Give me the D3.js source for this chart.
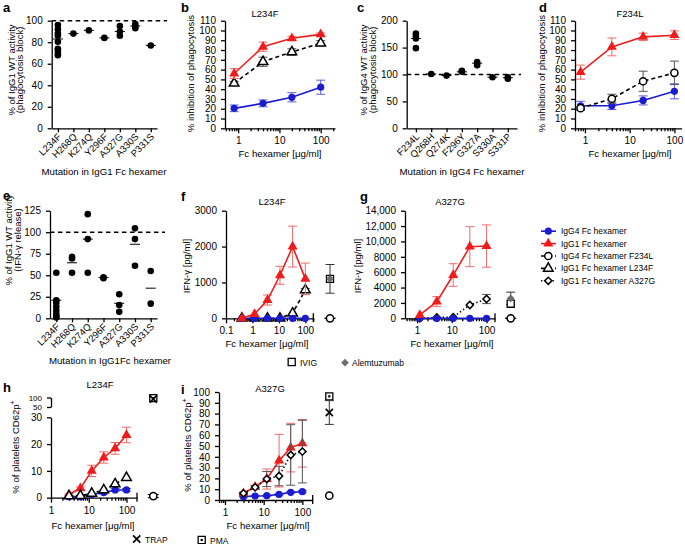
<!DOCTYPE html>
<html>
<head>
<meta charset="utf-8">
<script src="https://cdn.jsdelivr.net/npm/d3@7"></script>
<style>
  body { margin: 0; background: #fff; }
  svg { font-family: "Liberation Sans", Arial, Helvetica, sans-serif; }
  .axis path, .axis line { stroke: #000; stroke-width: 1.3; }
  .axis text { font-size: 10px; fill: #000; font-family: "Liberation Sans", Arial, sans-serif; }
</style>
</head>
<body>
<script>
// ---------------- data ----------------
const mutIgG1 = ["L234F", "H268Q", "K274Q", "Y296F", "A327G", "A330S", "P331S"];
const mutIgG4 = ["F234L", "Q268H", "Q274K", "F296Y", "G327A", "S330A", "S331P"];

// a: % of IgG1 WT activity (phagocytosis block)
const aPoints = [[96, 92, 88, 86, 80.5, 74, 73, 70, 68], [88], [91], [84], [95, 90, 86], [97, 94.5, 93], [77]];
const aMeans = [83, 88, 91, 84, 90, 95, 77];

// c: % of IgG4 WT activity (phagocytosis block)
const cPoints = [[176, 172, 167, 149], [101], [98], [107, 105], [123, 117], [95], [95, 92]];
const cMeans = [167, 101, 98, 105, 121, 95, 94];

// e: % of IgG1 WT activity (IFN-g release)
const ePoints = [[53, 21, 18, 13.5, 9, 5, 2.5, 1], [71.5, 69.5, 53], [121, 92, 53], [47.5, 46.5],
                 [28, 15.5, 7.5], [104.5, 92, 61], [55, 17]];
const eMeans = [21, 64.5, 92, 47.5, 17.5, 86, 35];

// b: L234F, % inhibition of phagocytosis
const concB = [0.8, 4, 20, 100];
const bIgG4 = [20.4, 25.5, 31.7, 42], bIgG4Err = [3.4, 3.5, 4.7, 7.2];
const bIgG1 = [56, 83.4, 92, 96], bIgG1Err = [5, 4.7, 2, 1.5];
const bL234F = [46, 68, 78, 87], bL234FErr = [2, 4.7, 3.3, 2.6];

// d: F234L, % inhibition of phagocytosis
const concD = [0.8, 4, 20, 100];
const dIgG4 = [23, 23, 28.5, 37.8], dIgG4Err = [4.6, 3.8, 4.6, 7.7];
const dIgG1 = [57.4, 83.2, 93.5, 95.2], dIgG1Err = [7.2, 9.1, 3.8, 4.4];
const dF234L = [20.6, 30.2, 48.1, 56.7], dF234LErr = [1.5, 4.6, 10.3, 12];

// f: L234F, IFN-g [pg/ml]
const concF = [0.4, 1.2, 3.7, 11, 33, 100];
const fIgG4 = [0, 0, 0, 0, 0, 0];
const fIgG1 = [0, 120, 510, 1200, 2000, 1100], fIgG1Err = [0, 0, 140, 250, 570, 440];
const fL234F = [0, 0, 0, 0, 140, 790], fL234FErr = [0, 0, 0, 0, 0, 40];
const fIVIG = 1100, fIVIGErr = 400, fAlem = 1100, fMedium = 0;

// g: A327G, IFN-g [pg/ml]
const concG = [1.2, 3.7, 11, 33, 100];
const gIgG4 = [0, 0, 0, 0, 0];
const gIgG1 = [430, 2170, 5630, 9320, 9400], gIgG1Err = [0, 650, 1470, 2600, 2750];
const gA327G = [0, 100, 150, 1730, 2510], gA327GErr = [0, 0, 0, 0, 600];
const gIVIG = 1900, gAlem = 2600, gAlemErr = 800, gMedium = 0;

// h: L234F, % of platelets CD62p+
const concH = [3, 6, 12, 25, 50, 100];
const hIgG4 = [0.4, 0.4, 1.2, 1.9, 2.9, 2.9], hIgG4Err = [0.3, 0.3, 0.4, 0.5, 0.5, 0.5];
const hIgG1 = [1.2, 3.5, 10, 15, 18.4, 23.4], hIgG1Err = [0.3, 0.5, 2.1, 2.1, 2.2, 2.9];
const hL234F = [0.6, 0.75, 1.6, 2.9, 5.1, 7.5];
const hTRAP = 92, hPMA = 97, hMedium = 0.6, hMediumErr = 0.6;

// i: A327G, % of platelets CD62p+
const concI = [3, 6, 12, 25, 50, 100];
const iIgG4 = [3.1, 3.7, 4, 5.2, 7.1, 7.7], iIgG4Err = [0.5, 0.5, 0.5, 0.7, 0.8, 1];
const iIgG1 = [6.2, 12.3, 19.4, 36.4, 48.5, 52.5], iIgG1Err = [1, 1.5, 9.3, 24.4, 22.5, 22];
const iA327G = [6.2, 11.7, 19.4, 22.2, 41.7, 44.8], iA327GErr = [1, 1.5, 7, 9, 28, 29];
const iTRAP = 81, iTRAPErr = 11, iPMA = 96, iMedium = 4;

const legendLabels = ["IgG4 Fc hexamer", "IgG1 Fc hexamer", "IgG4 Fc hexamer F234L",
                      "IgG1 Fc hexamer L234F", "IgG1 Fc hexamer A327G"];

// ---------------- helpers ----------------
const BLUE = "#1c1ccf", RED = "#f01c1c", GREY = "#6e6e6e";
const DASH = "4,3", DOT = "1.4,2.4";

const svg = d3.select("body").append("svg").attr("width", 685).attr("height", 544);

function text(t, x, y, size, anchor, rot) {
  const el = svg.append("text").attr("font-size", size || 10).attr("text-anchor", anchor || "middle").text(t);
  if (rot) el.attr("transform", `translate(${x},${y}) rotate(${rot})`);
  else el.attr("x", x).attr("y", y);
  return el;
}
function letter(t, x, y) { text(t, x, y, 13, "start").attr("font-weight", "bold"); }

function yAxis(scale, x, ticks, fmt, fontSize) {
  const g = svg.append("g").attr("class", "axis").attr("transform", `translate(${x},0)`)
    .call(d3.axisLeft(scale).tickValues(ticks).tickSize(4).tickSizeOuter(0).tickPadding(5)
      .tickFormat(fmt || (d => d)));
  if (fontSize) g.selectAll("text").style("font-size", fontSize + "px");
}

function logAxis(scale, y, majors, endTick) {
  const [d0, d1] = scale.domain();
  const minors = [];
  for (let e = Math.floor(Math.log10(d0)); e <= Math.ceil(Math.log10(d1)); e++)
    for (let k = 2; k < 10; k++) {
      const v = k * Math.pow(10, e);
      if (v >= d0 && v <= d1) minors.push(v);
    }
  const g = svg.append("g").attr("class", "axis").attr("transform", `translate(0,${y})`);
  g.append("g").call(d3.axisBottom(scale).tickValues(minors).tickSize(3).tickSizeOuter(0).tickFormat(""));
  g.append("g").call(d3.axisBottom(scale).tickValues(majors).tickSize(5).tickSizeOuter(0).tickPadding(4)
      .tickFormat(d => d))
    .select(".domain").remove();
  if (endTick) {
    const xe = scale.range()[1];
    g.append("line").attr("x1", xe).attr("x2", xe).attr("y1", -5).attr("y2", 4);
  }
}

function marker(g, type, x, y, color) {
  const sym = (s, size) => d3.symbol(s, size)();
  switch (type) {
    case "circle":
      g.append("circle").attr("cx", x).attr("cy", y).attr("r", 3.6).attr("fill", color); break;
    case "tri":
      g.append("path").attr("d", sym(d3.symbolTriangle, 44)).attr("transform", `translate(${x},${y})`)
        .attr("fill", color); break;
    case "ocircle":
      g.append("circle").attr("cx", x).attr("cy", y).attr("r", 3.6).attr("fill", "#fff")
        .attr("stroke", "#000").attr("stroke-width", 1.5); break;
    case "otri":
      g.append("path").attr("d", sym(d3.symbolTriangle, 40)).attr("transform", `translate(${x},${y})`)
        .attr("fill", "#fff").attr("stroke", "#000").attr("stroke-width", 1.5); break;
    case "odiam":
      g.append("path").attr("d", sym(d3.symbolSquare, 26)).attr("transform", `translate(${x},${y}) rotate(45)`)
        .attr("fill", "#fff").attr("stroke", "#000").attr("stroke-width", 1.5); break;
    case "osq":
      g.append("path").attr("d", sym(d3.symbolSquare, 50)).attr("transform", `translate(${x},${y})`)
        .attr("fill", "#fff").attr("stroke", "#000").attr("stroke-width", 1.3); break;
    case "gdiam":
      g.append("path").attr("d", sym(d3.symbolSquare, 30)).attr("transform", `translate(${x},${y}) rotate(45)`)
        .attr("fill", GREY); break;
    case "sqdot":
      marker(g, "osq", x, y);
      g.append("rect").attr("x", x - 1.1).attr("y", y - 1.1).attr("width", 2.2).attr("height", 2.2); break;
    case "x":
      g.append("path").attr("d", `M${x - 3.6},${y - 3.6}L${x + 3.6},${y + 3.6}M${x - 3.6},${y + 3.6}L${x + 3.6},${y - 3.6}`)
        .attr("stroke", "#000").attr("stroke-width", 1.7); break;
  }
}

function errBar(g, x, yTop, yBot, color, cap) {
  cap = cap || 4.5;
  g.append("path")
    .attr("d", `M${x},${yTop}V${yBot}M${x - cap},${yTop}H${x + cap}M${x - cap},${yBot}H${x + cap}`)
    .attr("stroke", color).attr("stroke-width", 1).attr("fill", "none");
}

function series(xs, ys, errs, sx, sy, st) {
  const g = svg.append("g");
  xs.forEach((x, i) => {
    if (!errs || !errs[i]) return;
    errBar(g, sx(x), sy(ys[i] + errs[i]), sy(Math.max(0, ys[i] - errs[i])), st.ecolor);
  });
  g.append("path").attr("d", d3.line()(xs.map((x, i) => [sx(x), sy(ys[i])])))
    .attr("fill", "none").attr("stroke", st.color).attr("stroke-width", 1.6)
    .attr("stroke-dasharray", st.dash || null);
  xs.forEach((x, i) => marker(g, st.m, sx(x), sy(ys[i]), st.color));
}

const sBlue = { color: BLUE, ecolor: "#5a5ade", m: "circle" };
const sRed = { color: RED, ecolor: "#f06a6a", m: "tri" };
const sF234L = { color: "#000", ecolor: "#555", m: "ocircle", dash: DASH };
const sL234F = { color: "#000", ecolor: "#555", m: "otri", dash: DASH };
const sA327G = { color: "#000", ecolor: "#555", m: "odiam", dash: DOT };

function catPanel(cats, pts, means, x0, x1, pad, y, ticks, dashTo) {
  const x = d3.scalePoint().domain(cats).range([x0, x1]).padding(pad);
  const yb = y.range()[0];
  yAxis(y, x0, ticks);
  svg.append("g").attr("class", "axis").attr("transform", `translate(0,${yb})`)
    .call(d3.axisBottom(x).tickSize(4).tickSizeOuter(0).tickFormat(""));
  cats.forEach(c => text(c, 0, 0, 9.5, "end").attr("transform", `translate(${x(c) + 4},${yb + 9}) rotate(-45)`));
  svg.append("line").attr("x1", x0).attr("x2", dashTo).attr("y1", y(100)).attr("y2", y(100))
    .attr("stroke", "#000").attr("stroke-width", 1.5).attr("stroke-dasharray", "4.5,3.5");
  pts.forEach((arr, i) => arr.forEach(v =>
    svg.append("circle").attr("cx", x(cats[i])).attr("cy", y(v)).attr("r", 3.3)));
  means.forEach((m, i) => svg.append("line").attr("x1", x(cats[i]) - 5).attr("x2", x(cats[i]) + 5)
    .attr("y1", y(m)).attr("y2", y(m)).attr("stroke", "#000").attr("stroke-width", 1));
}

// ---------------- panel a ----------------
letter("a", 3, 12);
const yA = d3.scaleLinear().domain([0, 100]).range([128.3, 20.7]);
catPanel(mutIgG1, aPoints, aMeans, 51.7, 157, 0.4, yA, d3.range(0, 101, 20), 167);
text("% of IgG1 WT activity", 14.5, 70, 9.5, "middle", -90);
text("(phagocytosis block)", 22.5, 70, 9.5, "middle", -90);
text("Mutation in IgG1 Fc hexamer", 104, 175, 9.7);

// ---------------- panel b ----------------
letter("b", 181, 12);
text("L234F", 265, 17, 9.5);
const xB = d3.scaleLog().domain([0.48, 222]).range([225, 335]);
const yB = d3.scaleLinear().domain([0, 110]).range([128.3, 20.7]);
yAxis(yB, 225, d3.range(0, 111, 10));
logAxis(xB, 128.3, [1, 10, 100]);
series(concB, bIgG4, bIgG4Err, xB, yB, sBlue);
series(concB, bL234F, bL234FErr, xB, yB, sL234F);
series(concB, bIgG1, bIgG1Err, xB, yB, sRed);
text("% inhibition of phagocytosis", 194, 73.5, 9.5, "middle", -90);
text("Fc hexamer [\u03bcg/ml]", 280, 157, 9.7);

// ---------------- panel c ----------------
letter("c", 357, 12);
const yC = d3.scaleLinear().domain([0, 200]).range([128.3, 20.7]);
catPanel(mutIgG4, cPoints, cMeans, 406.7, 517, 0.6, yC, d3.range(0, 201, 50), 521);
text("% of IgG4 WT activity", 367, 70, 9.5, "middle", -90);
text("(phagocytosis block)", 375.5, 70, 9.5, "middle", -90);
text("Mutation in IgG4 Fc hexamer", 462, 175, 9.7);

// ---------------- panel d ----------------
letter("d", 539, 12);
text("F234L", 630, 17, 9.5);
const xD = d3.scaleLog().domain([0.6, 145]).range([575, 681.6]);
const yD = d3.scaleLinear().domain([0, 110]).range([128.3, 20.7]);
yAxis(yD, 575, d3.range(0, 111, 10));
logAxis(xD, 128.3, [1, 10, 100]);
series(concD, dIgG4, dIgG4Err, xD, yD, sBlue);
series(concD, dF234L, dF234LErr, xD, yD, sF234L);
series(concD, dIgG1, dIgG1Err, xD, yD, sRed);
text("% inhibition of phagocytosis", 545, 73.5, 9.5, "middle", -90);
text("Fc hexamer [\u03bcg/ml]", 630, 157, 9.7);

// ---------------- panel e ----------------
letter("e", 3, 200);
const yE = d3.scaleLinear().domain([0, 125]).range([318.3, 210.7]);
catPanel(mutIgG1, ePoints, eMeans, 50, 157, 0.4, yE, d3.range(0, 126, 25), 165);
text("% of IgG1 WT activity", 12, 240, 9.5, "middle", -90);
text("(IFN-\u03b3 release)", 20.5, 240, 9.5, "middle", -90);
text("Mutation in IgG1Fc hexamer", 110, 364, 9.7);

// ---------------- panel f ----------------
letter("f", 181, 201);
text("L234F", 272, 205, 9.5);
const xF = d3.scaleLog().domain([0.1, 200]).range([226, 313.3]);
const yF = d3.scaleLinear().domain([0, 3000]).range([318.3, 210.7]);
yAxis(yF, 226, [0, 1000, 2000, 3000]);
logAxis(xF, 318.3, [0.1, 1, 10, 100], true);
series(concF, fL234F, fL234FErr, xF, yF, sL234F);
series(concF, fIgG4, null, xF, yF, sBlue);
series(concF, fIgG1, fIgG1Err, xF, yF, sRed);
{
  const g = svg.append("g"), cx = 330;
  errBar(g, cx, yF(fIVIG + fIVIGErr), yF(fIVIG - fIVIGErr), "#333");
  marker(g, "osq", cx, yF(fIVIG));
  marker(g, "gdiam", cx, yF(fAlem));
  errBar(g, cx, yF(fMedium), yF(fMedium), "#000", 5.5);
  marker(g, "ocircle", cx, yF(fMedium));
}
text("IFN-\u03b3 [pg/ml]", 190, 266, 9.5, "middle", -90);
text("Fc hexamer [\u03bcg/ml]", 267, 347, 9.7);
marker(svg, "osq", 291.7, 362);
text("IVIG", 300, 365.5, 8.5, "start");

// ---------------- panel g ----------------
letter("g", 360, 201);
text("A327G", 450, 205, 9.5);
const xG = d3.scaleLog().domain([0.45, 175]).range([405, 495]);
const yG = d3.scaleLinear().domain([0, 14000]).range([318.3, 210.7]);
yAxis(yG, 405, d3.range(0, 14001, 2000), d => d >= 10000 ? d3.format(",")(d) : d);
logAxis(xG, 318.3, [1, 10, 100], true);
series(concG, gA327G, gA327GErr, xG, yG, sA327G);
series(concG, gIgG4, null, xG, yG, sBlue);
series(concG, gIgG1, gIgG1Err, xG, yG, sRed);
{
  const g = svg.append("g"), cx = 510.7;
  errBar(g, cx, yG(gAlem + gAlemErr), yG(gAlem - gAlemErr), "#333");
  marker(g, "osq", cx, yG(gIVIG));
  marker(g, "gdiam", cx, yG(gAlem));
  errBar(g, cx, yG(gMedium), yG(gMedium), "#000", 5.5);
  marker(g, "ocircle", cx, yG(gMedium));
}
text("IFN-\u03b3 [pg/ml]", 361, 266, 9.5, "middle", -90);
text("Fc hexamer [\u03bcg/ml]", 452, 347, 9.7);
marker(svg, "gdiam", 345, 362.7);
text("Alemtuzumab", 352, 366, 8.5, "start");

// ---------------- legend ----------------
{
  const styles = [sBlue, sRed, sF234L, sL234F, sA327G];
  legendLabels.forEach((l, i) => {
    const y = 231.2 + i * 12.4, g = svg.append("g");
    g.append("line").attr("x1", 541).attr("x2", 556).attr("y1", y).attr("y2", y)
      .attr("stroke", styles[i].color).attr("stroke-width", 1.6).attr("stroke-dasharray", styles[i].dash || null);
    marker(g, styles[i].m, 548.3, y, styles[i].color);
    text(l, 561, y + 3, 8.5, "start");
  });
}

// ---------------- panel h ----------------
letter("h", 3, 392);
text("L234F", 100, 388, 9.5);
const xH = d3.scaleLog().domain([1, 190]).range([51, 137]);
const yHlow = d3.scaleLinear().domain([0, 30]).range([497.7, 417.3]);
const yHup = d3.scaleLinear().domain([50, 100]).range([407, 397.5]);
const yH = v => v <= 30 ? yHlow(v) : yHup(v);
yAxis(yHlow, 51, [0, 10, 20, 30]);
yAxis(yHup, 51, [50, 100], null, 8);
logAxis(xH, 497.7, [1, 10, 100], true);
series(concH, hIgG4, hIgG4Err, xH, yH, sBlue);
series(concH, hIgG1, hIgG1Err, xH, yH, sRed);
series(concH, hL234F, null, xH, yH, sL234F);
{
  const g = svg.append("g"), cx = 153.3;
  marker(g, "sqdot", cx, yH(hPMA));
  marker(g, "x", cx, yH(hTRAP));
  errBar(g, cx, yH(hMedium + hMediumErr), yH(hMedium - hMediumErr), "#000", 5.5);
  marker(g, "ocircle", cx, yH(hMedium));
}
text("% of platelets CD62p", 19, 447, 9.5, "middle", -90)
  .append("tspan").attr("dy", -4).attr("font-size", 7).text("+");
text("Fc hexamer [\u03bcg/ml]", 93, 529, 9.7);
marker(svg, "x", 136.7, 539);
text("TRAP", 145, 542.5, 8.5, "start");

// ---------------- panel i ----------------
letter("i", 181, 394);
text("A327G", 270, 392, 9.5);
const xI = d3.scaleLog().domain([0.7, 185]).range([219, 312.7]);
const yI = d3.scaleLinear().domain([0, 100]).range([500, 392]);
yAxis(yI, 219, d3.range(0, 101, 10));
logAxis(xI, 500, [1, 10, 100], true);
series(concI, iIgG4, iIgG4Err, xI, yI, sBlue);
series(concI, iIgG1, iIgG1Err, xI, yI, sRed);
series(concI, iA327G, iA327GErr, xI, yI, sA327G);
{
  const g = svg.append("g"), cx = 329.3;
  marker(g, "sqdot", cx, yI(iPMA));
  errBar(g, cx, yI(iTRAP + iTRAPErr), yI(iTRAP - iTRAPErr), "#333");
  marker(g, "x", cx, yI(iTRAP));
  marker(g, "ocircle", cx, yI(iMedium));
}
text("% of platelets CD62p", 191, 445, 9.5, "middle", -90)
  .append("tspan").attr("dy", -4).attr("font-size", 7).text("+");
text("Fc hexamer [\u03bcg/ml]", 268, 529, 9.7);
marker(svg, "sqdot", 201.7, 540);
text("PMA", 210, 543.5, 8.5, "start");
</script>
</body>
</html>
